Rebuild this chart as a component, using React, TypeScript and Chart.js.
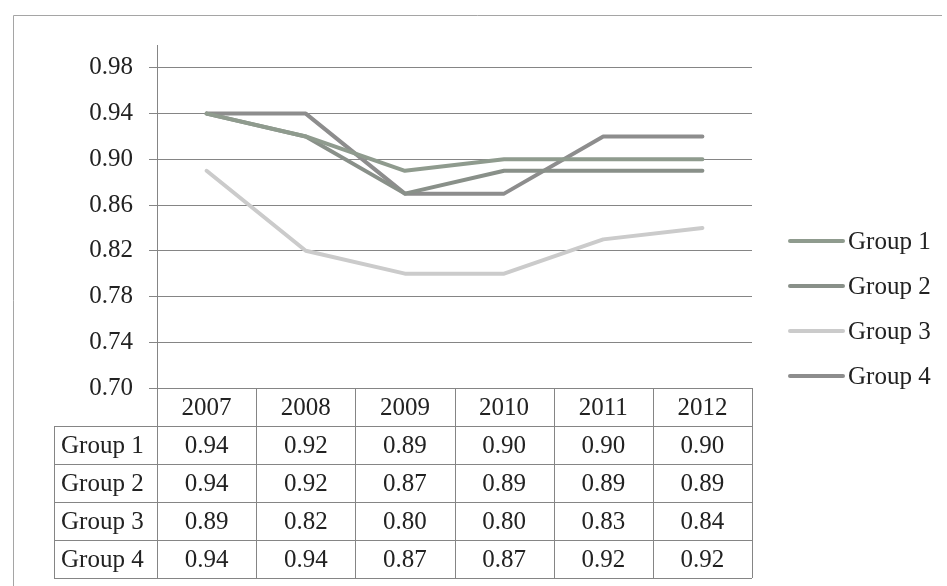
import React, { useEffect, useRef } from 'react';
import { Chart, registerables } from 'chart.js';

Chart.register(...registerables);

// Categories and series
const years = ['2007', '2008', '2009', '2010', '2011', '2012'];
const seriesNames = ['Group 1', 'Group 2', 'Group 3', 'Group 4'];
const group1 = [0.94, 0.92, 0.89, 0.9, 0.9, 0.9];
const group2 = [0.94, 0.92, 0.87, 0.89, 0.89, 0.89];
const group3 = [0.89, 0.82, 0.8, 0.8, 0.83, 0.84];
const group4 = [0.94, 0.94, 0.87, 0.87, 0.92, 0.92];
const seriesValues = [group1, group2, group3, group4];

// Value axis
const yMin = 0.7;
const yMax = 1.0;
const yTicks = [0.7, 0.74, 0.78, 0.82, 0.86, 0.9, 0.94, 0.98];

const lineColors = ['#8f9b8e', '#899089', '#cbcbcb', '#8d8d8d'];
const FONT = '"Liberation Serif", "Times New Roman", serif';
const TEXT = '#222222';
const RULE = '#858585';

// Draws the data table under the plot, the legend on the right and the outer frame
const tableAndLegend = {
  id: 'tableAndLegend',
  afterDraw(chart: any) {
    const ctx = chart.ctx as CanvasRenderingContext2D;
    const { left, right, bottom } = chart.chartArea;
    const rowH = 38;
    const labelColLeft = left - 103;
    const colW = (right - left) / years.length;
    const top = bottom;
    const tableBottom = top + rowH * (seriesNames.length + 1);

    ctx.save();
    // outer frame (top and left edges)
    ctx.strokeStyle = '#a5a5a5';
    ctx.lineWidth = 1;
    ctx.beginPath();
    ctx.moveTo(13.5, 15.5);
    ctx.lineTo(942, 15.5);
    ctx.moveTo(13.5, 15.5);
    ctx.lineTo(13.5, 586);
    ctx.stroke();

    // table rules
    ctx.strokeStyle = RULE;
    ctx.beginPath();
    for (let r = 1; r <= seriesNames.length + 1; r++) {
      const y = Math.round(top + r * rowH) + 0.5;
      ctx.moveTo(labelColLeft, y);
      ctx.lineTo(right, y);
    }
    for (let c = 0; c <= years.length; c++) {
      const x = Math.round(left + c * colW) + 0.5;
      ctx.moveTo(x, top);
      ctx.lineTo(x, tableBottom);
    }
    const lx = Math.round(labelColLeft) + 0.5;
    ctx.moveTo(lx, top + rowH);
    ctx.lineTo(lx, tableBottom);
    ctx.stroke();

    // table text
    ctx.fillStyle = TEXT;
    ctx.font = `25px ${FONT}`;
    ctx.textBaseline = 'middle';
    ctx.textAlign = 'center';
    years.forEach((yr, c) => {
      const cx = chart.scales.x.getPixelForValue(c);
      ctx.fillText(yr, cx, top + rowH / 2 + 1);
    });
    seriesNames.forEach((name, r) => {
      const cy = top + (r + 1.5) * rowH + 1;
      ctx.textAlign = 'left';
      ctx.fillText(name, labelColLeft + 7, cy);
      ctx.textAlign = 'center';
      seriesValues[r].forEach((v, c) => {
        const cx = chart.scales.x.getPixelForValue(c);
        ctx.fillText(v.toFixed(2), cx, cy);
      });
    });

    // legend
    const legX = 790;
    const legY0 = 241;
    const legGap = 45;
    seriesNames.forEach((name, i) => {
      const y = legY0 + i * legGap;
      ctx.strokeStyle = lineColors[i];
      ctx.lineWidth = 4;
      ctx.lineCap = 'round';
      ctx.beginPath();
      ctx.moveTo(legX, y);
      ctx.lineTo(legX + 53, y);
      ctx.stroke();
      ctx.fillStyle = TEXT;
      ctx.textAlign = 'left';
      ctx.fillText(name, legX + 58, y + 1);
    });
    ctx.restore();
  },
};

export default function App() {
  const canvasRef = useRef<HTMLCanvasElement | null>(null);

  useEffect(() => {
    if (!canvasRef.current) return;
    const chart = new Chart(canvasRef.current, {
      type: 'line',
      data: {
        labels: years,
        datasets: seriesNames.map((name, i) => ({
          label: name,
          data: seriesValues[i],
          borderColor: lineColors[i],
          backgroundColor: lineColors[i],
          borderWidth: 4,
          pointRadius: 0,
          tension: 0,
          borderCapStyle: 'round' as const,
          borderJoinStyle: 'round' as const,
        })),
      },
      options: {
        animation: false,
        responsive: true,
        maintainAspectRatio: false,
        layout: { padding: { top: 45, right: 195, bottom: 198, left: 0 } },
        plugins: { legend: { display: false }, tooltip: { enabled: false } },
        scales: {
          x: {
            type: 'category',
            display: false,
            offset: true,
          },
          y: {
            min: yMin,
            max: yMax,
            afterFit(scale: any) {
              scale.width = 157;
            },
            afterBuildTicks(scale: any) {
              scale.ticks = yTicks.map((v) => ({ value: v }));
            },
            ticks: {
              padding: 16,
              color: TEXT,
              font: { family: FONT, size: 25 },
              callback(value: any) {
                return Number(value).toFixed(2);
              },
            },
            grid: {
              color: RULE,
              lineWidth: 1,
              tickLength: 8,
              drawTicks: true,
            },
            border: { display: true, color: RULE, width: 1 },
          },
        },
      },
      plugins: [tableAndLegend],
    });
    return () => chart.destroy();
  }, []);

  return (
    <div style={{ position: 'fixed', left: 0, top: 0, width: 947, height: 586, background: '#fff' }}>
      <canvas ref={canvasRef} />
    </div>
  );
}
